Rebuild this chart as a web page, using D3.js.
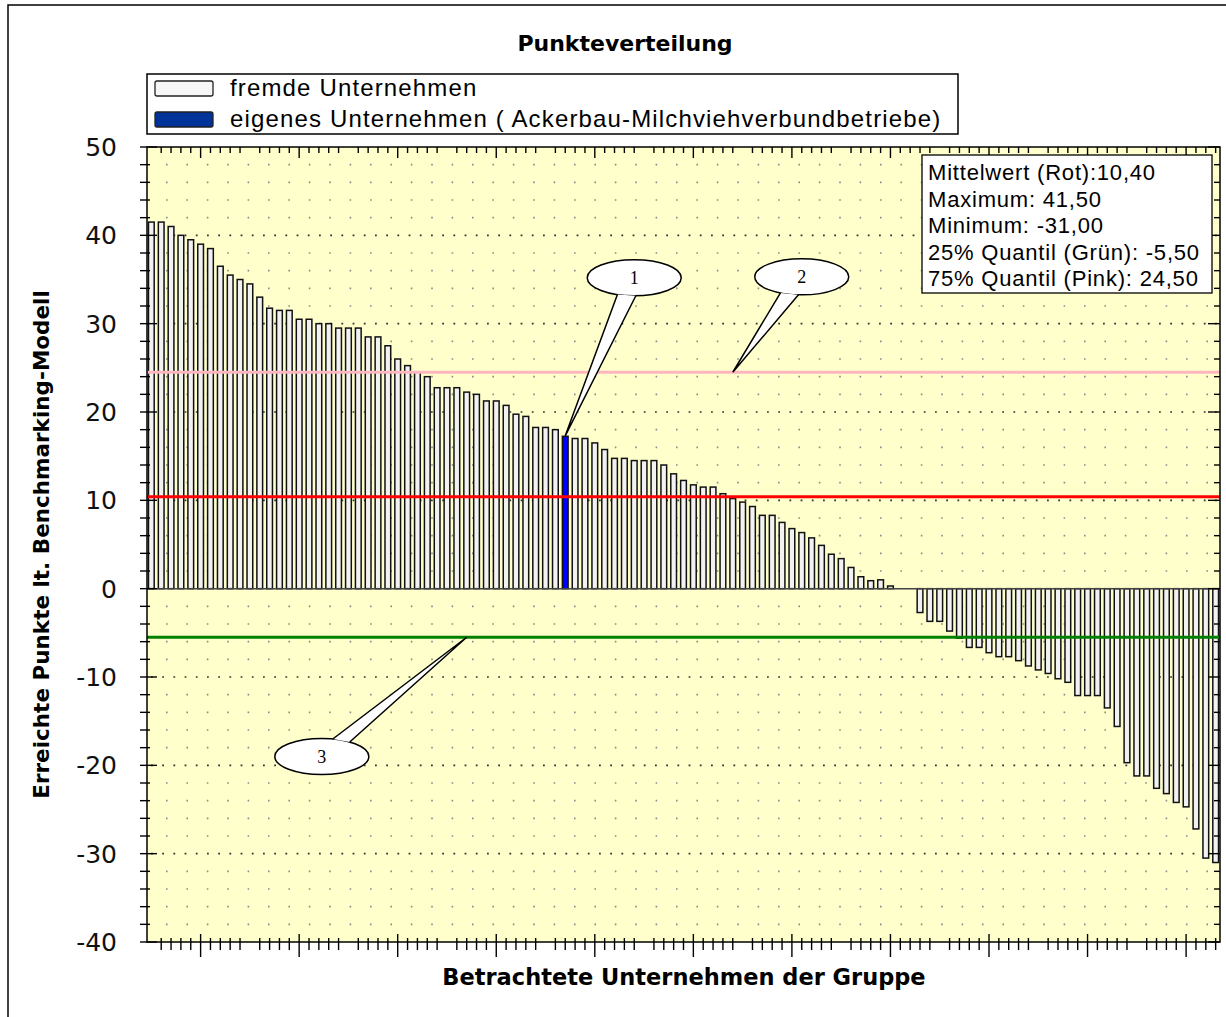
<!DOCTYPE html>
<html>
<head>
<meta charset="utf-8">
<script src="https://cdn.jsdelivr.net/npm/d3@7"></script>
<style>
  body { margin: 0; background: #fff; }
</style>
</head>
<body>
<div id="chart"></div>
<script>
// Punkte je Unternehmen, absteigend sortiert
const barValues = [
    41.5, 41.5, 41, 40, 39.5, 39, 38.5, 36.5, 35.5, 35,
    34.5, 33, 31.75, 31.5, 31.5, 30.5, 30.5, 30, 30, 29.5,
    29.5, 29.5, 28.5, 28.5, 27.5, 26, 25.25, 24.5, 24, 22.75,
    22.75, 22.75, 22.25, 22, 21.25, 21.25, 20.75, 19.75, 19.5, 18.25,
    18.25, 18, 17.25, 17, 17, 16.5, 15.75, 14.75, 14.75, 14.5,
    14.5, 14.5, 14, 13, 12.25, 11.75, 11.5, 11.5, 10.75, 10.2,
    9.8, 9.3, 8.3, 8.3, 7.5, 6.8, 6.35, 5.75, 4.9, 3.9,
    3.4, 2.4, 1.35, 0.9, 1, 0.3, 0, 0, -2.7, -3.7,
    -3.7, -4.8, -5.6, -6.65, -6.65, -7.25, -7.7, -7.7, -8.15, -8.75,
    -9.2, -9.6, -10.2, -10.6, -12.1, -12.1, -12.1, -13.5, -15.6, -19.7,
    -21.2, -21.2, -22.6, -23.2, -24.2, -24.7, -27.2, -30.5, -31
];
const companyIds = barValues.map((v, i) => i + 1);
const ownCompany = 43;

const refNames = ['Mittelwert', '75% Quantil', '25% Quantil'];
const refValues = [10.4, 24.5, -5.5];

const statLines = [
    'Mittelwert (Rot):10,40',
    'Maximum: 41,50',
    'Minimum: -31,00',
    '25% Quantil (Grün): -5,50',
    '75% Quantil (Pink): 24,50'
];

const legendLabels = ['fremde Unternehmen', 'eigenes Unternehmen ( Ackerbau-Milchviehverbundbetriebe)'];
const yTickValues = [50, 40, 30, 20, 10, 0, -10, -20, -30, -40];

// Sprechblasen: Ziel (Unternehmen, Punkte) und Blase (Unternehmen, Punkte)
const calloutLabels = ['1', '2', '3'];
const calloutTargets = [[43, 17.3], [60, 24.5], [33, -5.5]];
const calloutBubbles = [[50, 35.2], [67, 35.3], [18.3, -19]];

(function drawChart() {
    const width = 1226, height = 1017;
    const plot = { left: 147, right: 1220, top: 147, bottom: 942 };

    const refColor = { 'Mittelwert': '#ff0000', '75% Quantil': '#ffb6c1', '25% Quantil': '#008000' };

    const svg = d3.select('#chart')
        .append('svg')
        .attr('width', width)
        .attr('height', height);

    const x = d3.scaleBand()
        .domain(companyIds)
        .range([plot.left, plot.right])
        .paddingInner(0.42)
        .paddingOuter(0.15);
    const xc = d3.scaleLinear()
        .domain([1, companyIds.length])
        .range([x(1) + x.bandwidth() / 2, x(companyIds.length) + x.bandwidth() / 2]);
    const y = d3.scaleLinear()
        .domain([-40, 50])
        .range([plot.bottom, plot.top]);

    // outer frame (only left/top visible)
    svg.append('rect')
        .attr('x', 8).attr('y', 5)
        .attr('width', width + 20).attr('height', height + 20)
        .style('fill', 'none')
        .style('stroke', '#000')
        .style('stroke-width', 1.5);

    // title
    svg.append('text')
        .attr('x', 625).attr('y', 51)
        .attr('text-anchor', 'middle')
        .style('font-family', 'DejaVu Sans, Verdana, sans-serif')
        .style('font-weight', 'bold')
        .style('font-size', '22px')
        .text('Punkteverteilung');

    // plot background
    svg.append('rect')
        .attr('x', plot.left).attr('y', plot.top)
        .attr('width', plot.right - plot.left)
        .attr('height', plot.bottom - plot.top)
        .style('fill', '#ffffcc');

    // dotted grid
    const grid = svg.append('g');
    const minorRows = d3.range(-38, 50, 2).filter(v => v % 10 !== 0);
    grid.selectAll('line.minor')
        .data(minorRows)
        .join('line')
        .attr('class', 'minor')
        .attr('x1', plot.left).attr('x2', plot.right)
        .attr('y1', d => y(d)).attr('y2', d => y(d))
        .style('stroke', '#8a8a8a')
        .style('stroke-width', 1.6)
        .style('stroke-dasharray', '1.6 18.8')
        .style('stroke-dashoffset', -19);
    grid.selectAll('line.major')
        .data([40, 30, 20, 10, -10, -20, -30])
        .join('line')
        .attr('class', 'major')
        .attr('x1', plot.left).attr('x2', plot.right)
        .attr('y1', d => y(d)).attr('y2', d => y(d))
        .style('stroke', '#333')
        .style('stroke-width', 1.6)
        .style('stroke-dasharray', '1.8 9.4')
        .style('stroke-dashoffset', -4);

    // bars
    svg.append('g')
        .selectAll('rect')
        .data(barValues.map((v, i) => ({ id: companyIds[i], v })).filter(d => d.v !== 0))
        .join('rect')
        .attr('x', d => x(d.id))
        .attr('y', d => y(Math.max(0, d.v)))
        .attr('width', x.bandwidth())
        .attr('height', d => Math.abs(y(d.v) - y(0)))
        .style('fill', d => d.id === ownCompany ? '#0000ff' : '#f2f2f2')
        .style('stroke', '#111')
        .style('stroke-width', 1.5);

    // zero line
    svg.append('line')
        .attr('x1', plot.left).attr('x2', plot.right)
        .attr('y1', y(0)).attr('y2', y(0))
        .style('stroke', '#444')
        .style('stroke-width', 1.5);

    // reference lines
    svg.append('g')
        .selectAll('line')
        .data(refNames.map((n, i) => ({ n, v: refValues[i] })))
        .join('line')
        .attr('x1', plot.left).attr('x2', plot.right)
        .attr('y1', d => y(d.v)).attr('y2', d => y(d.v))
        .style('stroke', d => refColor[d.n])
        .style('stroke-width', 3);

    // plot border
    svg.append('rect')
        .attr('x', plot.left).attr('y', plot.top)
        .attr('width', plot.right - plot.left)
        .attr('height', plot.bottom - plot.top)
        .style('fill', 'none')
        .style('stroke', '#000')
        .style('stroke-width', 1.5);

    // y ticks (left and right)
    const yTicksAll = d3.range(-40, 51, 2);
    const ticks = svg.append('g').style('stroke', '#000').style('stroke-width', 1.4);
    ticks.selectAll('line.yl')
        .data(yTicksAll)
        .join('line')
        .attr('class', 'yl')
        .attr('x1', plot.left - 7)
        .attr('x2', d => plot.left + (d % 10 === 0 ? 10 : 3))
        .attr('y1', d => y(d)).attr('y2', d => y(d));
    ticks.selectAll('line.yr')
        .data(yTicksAll)
        .join('line')
        .attr('class', 'yr')
        .attr('x1', d => plot.right - (d % 10 === 0 ? 12 : 6))
        .attr('x2', plot.right)
        .attr('y1', d => y(d)).attr('y2', d => y(d));

    // x ticks (bottom and top)
    const xTicks = companyIds.filter(k => k % 10 !== 1);
    ticks.selectAll('line.xb')
        .data(xTicks)
        .join('line')
        .attr('class', 'xb')
        .attr('x1', d => xc(d)).attr('x2', d => xc(d))
        .attr('y1', d => plot.bottom - (d % 10 === 6 ? 8 : 4))
        .attr('y2', d => plot.bottom + (d % 10 === 6 ? 15 : 8));
    ticks.selectAll('line.xt')
        .data(xTicks)
        .join('line')
        .attr('class', 'xt')
        .attr('x1', d => xc(d)).attr('x2', d => xc(d))
        .attr('y1', plot.top)
        .attr('y2', d => plot.top + (d % 10 === 6 ? 11 : 6));

    // y tick labels
    svg.append('g')
        .selectAll('text')
        .data(yTickValues)
        .join('text')
        .attr('x', 117)
        .attr('y', d => y(d) + 9)
        .attr('text-anchor', 'end')
        .style('font-family', 'DejaVu Sans, sans-serif')
        .style('font-size', '25px')
        .style('fill', '#111')
        .text(d => d);

    // axis titles
    svg.append('text')
        .attr('transform', 'translate(49,' + ((plot.top + plot.bottom) / 2) + ') rotate(-90)')
        .attr('text-anchor', 'middle')
        .style('font-family', 'DejaVu Sans, Verdana, sans-serif')
        .style('font-weight', 'bold')
        .style('font-size', '21.5px')
        .text('Erreichte Punkte lt. Benchmarking-Modell');
    svg.append('text')
        .attr('x', 684).attr('y', 985)
        .attr('text-anchor', 'middle')
        .style('font-family', 'DejaVu Sans, Verdana, sans-serif')
        .style('font-weight', 'bold')
        .style('font-size', '22.5px')
        .text('Betrachtete Unternehmen der Gruppe');

    // legend
    const legend = svg.append('g');
    legend.append('rect')
        .attr('x', 147).attr('y', 74)
        .attr('width', 811).attr('height', 60)
        .style('fill', '#fff')
        .style('stroke', '#000')
        .style('stroke-width', 1.5);
    legendLabels.forEach((label, i) => {
        legend.append('rect')
            .attr('x', 155).attr('y', 81 + i * 31)
            .attr('width', 58).attr('height', 15)
            .attr('rx', 2)
            .style('fill', i === 0 ? '#f6f6f6' : '#003399')
            .style('stroke', '#222')
            .style('stroke-width', 1.3);
        legend.append('text')
            .attr('x', 230).attr('y', 96 + i * 31)
            .style('font-family', 'Liberation Sans, Arial, sans-serif')
            .style('font-size', '24px')
            .style('letter-spacing', '1.15px')
            .text(label);
    });

    // statistics box
    const stats = svg.append('g');
    stats.append('rect')
        .attr('x', 922).attr('y', 155)
        .attr('width', 290).attr('height', 138)
        .style('fill', '#fff')
        .style('stroke', '#000')
        .style('stroke-width', 1.3);
    stats.selectAll('text')
        .data(statLines)
        .join('text')
        .attr('x', 928)
        .attr('y', (d, i) => 180 + i * 26.5)
        .style('font-family', 'Liberation Sans, Arial, sans-serif')
        .style('font-size', '22px')
        .style('letter-spacing', '0.8px')
        .text(d => d);

    // callouts
    const rx = 47, ry = 18;
    calloutLabels.forEach((label, i) => {
        const cx = xc(calloutBubbles[i][0]), cy = y(calloutBubbles[i][1]);
        const tx = xc(calloutTargets[i][0]), ty = y(calloutTargets[i][1]);
        const a = Math.atan2((ty - cy) / ry, (tx - cx) / rx);
        const b1 = [cx + rx * Math.cos(a - 0.2), cy + ry * Math.sin(a - 0.2)];
        const b2 = [cx + rx * Math.cos(a + 0.2), cy + ry * Math.sin(a + 0.2)];
        const g = svg.append('g');
        g.append('ellipse')
            .attr('cx', cx).attr('cy', cy)
            .attr('rx', rx).attr('ry', ry)
            .style('fill', '#fff')
            .style('stroke', '#000')
            .style('stroke-width', 1.5);
        g.append('path')
            .attr('d', d3.line()([b1, [tx, ty], b2]))
            .style('fill', '#fff')
            .style('stroke', '#000')
            .style('stroke-width', 1.5);
        g.append('text')
            .attr('x', cx).attr('y', cy + 6)
            .attr('text-anchor', 'middle')
            .style('font-family', 'Liberation Serif, Times New Roman, serif')
            .style('font-size', '18px')
            .text(label);
    });
})();
</script>
</body>
</html>
